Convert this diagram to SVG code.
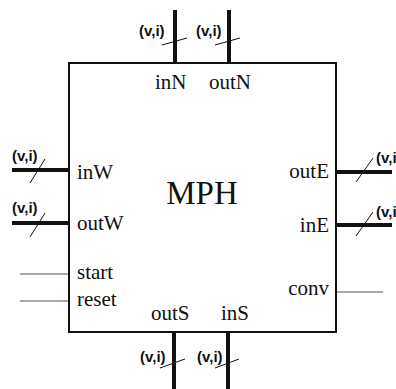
<svg xmlns="http://www.w3.org/2000/svg" width="396" height="389" viewBox="0 0 396 389">
<style>
.lbl{font-family:"Liberation Serif","Times New Roman",serif;font-size:21px;fill:#111}
.vi{font-family:"Liberation Sans",Arial,sans-serif;font-size:15px;font-weight:bold;fill:#111}
.bus{stroke:#111;stroke-width:4;fill:none}
.sig{stroke:#555;stroke-width:1.2;fill:none}
.tick{stroke:#111;stroke-width:1;fill:none}
</style>
<rect width="396" height="389" fill="#fff"/>
<g id="connectors">
<line class="bus" x1="175" y1="10" x2="175" y2="63"/>
<line class="bus" x1="229" y1="10" x2="229" y2="63"/>
<line class="tick" x1="162" y1="45" x2="187" y2="38"/>
<line class="tick" x1="215" y1="45" x2="240" y2="38"/>
<line class="bus" x1="174" y1="332" x2="174" y2="389"/>
<line class="bus" x1="228" y1="332" x2="228" y2="389"/>
<line class="tick" x1="160" y1="368" x2="185" y2="359"/>
<line class="tick" x1="215" y1="368" x2="239" y2="359"/>
<line class="bus" x1="12" y1="170" x2="69" y2="170"/>
<line class="bus" x1="12" y1="223" x2="69" y2="223"/>
<line class="tick" x1="30" y1="183" x2="45" y2="159"/>
<line class="tick" x1="30" y1="237" x2="45" y2="213"/>
<line class="bus" x1="335" y1="172" x2="392" y2="172"/>
<line class="bus" x1="335" y1="225" x2="392" y2="225"/>
<line class="tick" x1="356" y1="182" x2="373" y2="158"/>
<line class="tick" x1="356" y1="236" x2="373" y2="212"/>
<line class="sig" x1="20" y1="274" x2="69" y2="274"/>
<line class="sig" x1="20" y1="301" x2="69" y2="301"/>
<line class="sig" x1="336" y1="292" x2="383" y2="292"/>
</g>
<g id="labels-vi">
<text class="vi" x="139" y="36">(v,i)</text>
<text class="vi" x="196" y="36">(v,i)</text>
<text class="vi" x="12" y="161">(v,i)</text>
<text class="vi" x="12" y="213">(v,i)</text>
<text class="vi" x="376" y="163">(v,i)</text>
<text class="vi" x="376" y="217">(v,i)</text>
<text class="vi" x="140" y="362">(v,i)</text>
<text class="vi" x="197" y="362">(v,i)</text>
</g>
<g id="MPH">
<rect x="69" y="63" width="267" height="269" fill="none" stroke="#111" stroke-width="2"/>
<text class="lbl" x="202" y="204" text-anchor="middle" style="font-size:33px">MPH</text>
<text class="lbl" x="155" y="89">inN</text>
<text class="lbl" x="209" y="89">outN</text>
<text class="lbl" x="77" y="179">inW</text>
<text class="lbl" x="77" y="230">outW</text>
<text class="lbl" x="77" y="279">start</text>
<text class="lbl" x="77" y="306">reset</text>
<text class="lbl" x="329" y="178" text-anchor="end">outE</text>
<text class="lbl" x="329" y="232" text-anchor="end">inE</text>
<text class="lbl" x="329" y="295" text-anchor="end">conv</text>
<text class="lbl" x="151" y="320">outS</text>
<text class="lbl" x="221" y="320">inS</text>
</g>
</svg>
